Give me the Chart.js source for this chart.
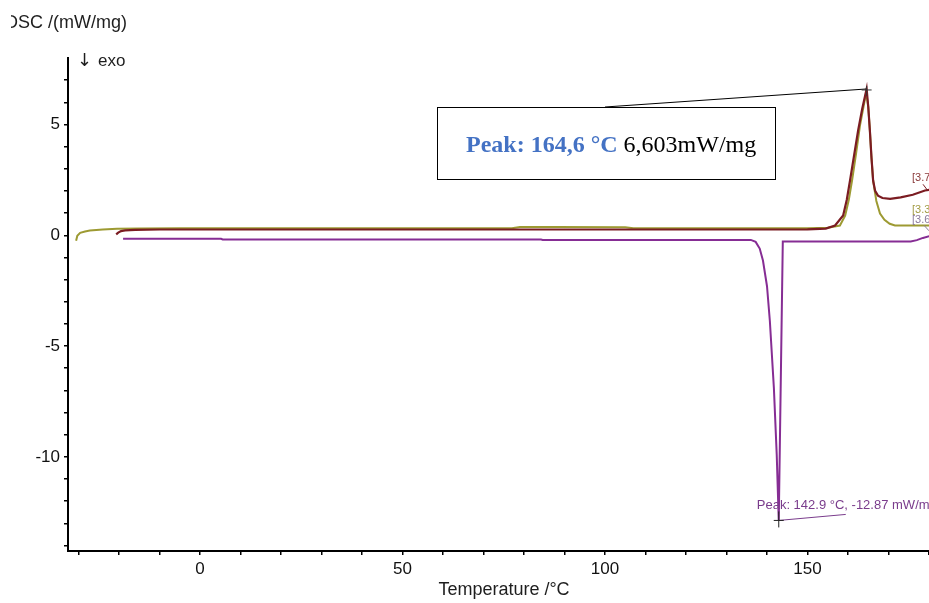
<!DOCTYPE html>
<html lang="en">
<head>
    <meta charset="UTF-8">
    <title>DSC - Heat Flow</title>
    <script src="https://cdn.jsdelivr.net/npm/chart.js"></script>
    <style>
        body {
            margin: 0;
            padding: 0;
            background-color: #ffffff;
        }

        #dscChart {
            display: block;
        }
    </style>
</head>
<body>

    <canvas id="dscChart" width="929" height="603"></canvas>

    <script>
        // Run 3.3 (olive) - temperature in °C, heat flow in mW/mg
        var run33Temp = [-30.6, -30.3, -29.6, -28.4, -27.2, -24, -20.5, -15, -5, 40, 77, 79, 88, 105, 107, 150, 155, 158.0, 159.3, 160.2, 161.0, 162.0, 163.0, 164.5, 165.0, 165.4, 165.8, 166.2, 167.0, 167.9, 169, 170.3, 171.6, 181];
        var run33Dsc = [-0.25, -0.02, 0.11, 0.17, 0.21, 0.26, 0.29, 0.31, 0.32, 0.32, 0.32, 0.37, 0.37, 0.36, 0.32, 0.32, 0.34, 0.44, 0.89, 1.6, 2.47, 3.7, 5.0, 6.45, 5.8, 4.73, 3.5, 2.47, 1.55, 0.98, 0.7, 0.52, 0.44, 0.44];

        // Run 3.7 (brown)
        var run37Temp = [-20.7, -20.2, -19.5, -18.5, -16, -10, 0, 60, 120, 150, 154.5, 156.8, 158.8, 159.7, 160.5, 161.5, 162.5, 163.5, 164.6, 165.0, 165.4, 165.8, 166.2, 166.7, 167.4, 168.5, 170.4, 173, 176, 179, 181];
        var run37Dsc = [0.04, 0.12, 0.19, 0.22, 0.24, 0.26, 0.26, 0.26, 0.26, 0.27, 0.3, 0.44, 0.89, 1.6, 2.47, 3.6, 4.73, 5.7, 6.603, 5.8, 4.73, 3.5, 2.47, 2.0, 1.79, 1.68, 1.64, 1.71, 1.83, 2.02, 2.08];

        // Run 3.6 (purple)
        var run36Temp = [-19.0, 5.2, 5.6, 84.2, 84.6, 136.0, 137.2, 138.2, 139.0, 140.0, 140.7, 141.7, 142.4, 142.9, 143.9, 175.5, 177, 178.5, 181];
        var run36Dsc = [-0.16, -0.16, -0.19, -0.19, -0.21, -0.21, -0.3, -0.6, -1.14, -2.3, -3.86, -6.9, -9.9, -12.87, -0.28, -0.28, -0.22, -0.12, 0.0];

        // evaluated peaks
        var meltPeakTemp = 164.6;
        var meltPeakDsc = 6.603;
        var crystPeakTemp = 142.9;
        var crystPeakDsc = -12.87;

        // axis ticks (minor marks) and the ones that get a label
        var tempTicks = [-30, -20, -10, 0, 10, 20, 30, 40, 50, 60, 70, 80, 90, 100, 110, 120, 130, 140, 150, 160, 170, 180];
        var tempLabels = [0, 50, 100, 150];
        var dscTicks = [-14, -13, -12, -11, -10, -9, -8, -7, -6, -5, -4, -3, -2, -1, 0, 1, 2, 3, 4, 5, 6, 7];
        var dscLabels = [-10, -5, 0, 5];

        var sansFont = '"Liberation Sans", Arial, sans-serif';
        var serifFont = '"Liberation Serif", "Times New Roman", serif';

        function toPoints(temps, values) {
            return temps.map(function (t, i) { return { x: t, y: values[i] }; });
        }

        function commaNum(v, digits) {
            return v.toFixed(digits).replace('.', ',');
        }

        // titles, peak evaluations and run tags
        var overlayPlugin = {
            id: 'dscOverlay',
            afterDraw: function (chart) {
                var ctx = chart.ctx;
                var xs = chart.scales.x;
                var ys = chart.scales.y;

                ctx.save();
                ctx.textBaseline = 'middle';

                // y unit at top left (its first letter is cut by the page edge)
                ctx.fillStyle = '#1e1e1e';
                ctx.font = '18px ' + sansFont;
                ctx.textAlign = 'left';
                ctx.fillText('DSC /(mW/mg)', 5, 23);
                ctx.fillStyle = '#ffffff';
                ctx.fillRect(0, 0, 11, 40);

                ctx.fillStyle = '#1e1e1e';
                ctx.font = '18px "DejaVu Sans", sans-serif';
                ctx.fillText('\u2193', 77, 61);
                ctx.font = '17px ' + sansFont;
                ctx.fillText('exo', 98, 61);

                ctx.font = '18px ' + sansFont;
                ctx.textAlign = 'center';
                ctx.fillText('Temperature /\u00B0C', 504, 590);

                // melting peak call-out
                var px = xs.getPixelForValue(meltPeakTemp);
                var py = ys.getPixelForValue(meltPeakDsc);
                ctx.strokeStyle = '#000000';
                ctx.lineWidth = 1;
                ctx.beginPath();
                ctx.moveTo(605, 107);
                ctx.lineTo(px, py);
                ctx.stroke();

                ctx.fillStyle = '#ffffff';
                ctx.fillRect(437, 107, 339, 73);
                ctx.strokeRect(437.5, 107.5, 338, 72);

                ctx.textAlign = 'left';
                ctx.textBaseline = 'alphabetic';
                var bold = 'Peak: ' + commaNum(meltPeakTemp, 1) + ' \u00B0C ';
                ctx.font = 'bold 24px ' + serifFont;
                ctx.fillStyle = '#4472c4';
                ctx.fillText(bold, 466, 152);
                var w = ctx.measureText(bold).width;
                ctx.font = '24px ' + serifFont;
                ctx.fillStyle = '#000000';
                ctx.fillText(commaNum(meltPeakDsc, 3) + 'mW/mg', 466 + w, 152);

                // peak mark on the melting curve
                ctx.strokeStyle = '#333333';
                ctx.beginPath();
                ctx.moveTo(px - 5, py + 1);
                ctx.lineTo(px + 5, py + 1);
                ctx.moveTo(px, py - 3);
                ctx.lineTo(px, py + 7);
                ctx.stroke();

                // crystallisation peak evaluation
                var cx = xs.getPixelForValue(crystPeakTemp);
                var cy = ys.getPixelForValue(crystPeakDsc);
                ctx.strokeStyle = '#7a3c8c';
                ctx.beginPath();
                ctx.moveTo(cx, cy);
                ctx.lineTo(cx + 67, cy - 6);
                ctx.stroke();
                ctx.strokeStyle = '#222222';
                ctx.beginPath();
                ctx.moveTo(cx - 5, cy);
                ctx.lineTo(cx + 5, cy);
                ctx.moveTo(cx, cy - 9);
                ctx.lineTo(cx, cy + 7);
                ctx.stroke();

                ctx.font = '13px ' + sansFont;
                ctx.fillStyle = '#7a3c8c';
                ctx.textBaseline = 'middle';
                ctx.fillText('Peak: ' + crystPeakTemp.toFixed(1) + ' \u00B0C, ' + crystPeakDsc.toFixed(2) + ' mW/mg', cx - 22, cy - 15);

                // run tags at the right edge
                var tagX = xs.right - 17;
                ctx.font = '11px ' + sansFont;
                ctx.fillStyle = '#8a3a3a';
                ctx.fillText('[3.7]', tagX, ys.getPixelForValue(2.6));
                ctx.fillStyle = '#a39c45';
                ctx.fillText('[3.3]', tagX, ys.getPixelForValue(1.15));
                ctx.fillStyle = '#8c7a9c';
                ctx.fillText('[3.6]', tagX, ys.getPixelForValue(0.7));

                ctx.lineWidth = 1;
                ctx.strokeStyle = '#7b1c22';
                ctx.beginPath();
                ctx.moveTo(tagX + 11, ys.getPixelForValue(2.3));
                ctx.lineTo(tagX + 16, ys.getPixelForValue(2.0));
                ctx.stroke();
                ctx.strokeStyle = '#8c7a9c';
                ctx.beginPath();
                ctx.moveTo(tagX + 12, ys.getPixelForValue(0.45));
                ctx.lineTo(tagX + 17, ys.getPixelForValue(0.2));
                ctx.stroke();

                ctx.restore();
            }
        };

        var ctx = document.getElementById('dscChart').getContext('2d');

        var dscChart = new Chart(ctx, {
            type: 'line',
            data: {
                datasets: [{
                    label: '3.7',
                    data: toPoints(run37Temp, run37Dsc),
                    borderColor: '#7b1c22',
                    borderWidth: 2.2,
                    order: 1
                }, {
                    label: '3.6',
                    data: toPoints(run36Temp, run36Dsc),
                    borderColor: '#862d94',
                    borderWidth: 2,
                    order: 2
                }, {
                    label: '3.3',
                    data: toPoints(run33Temp, run33Dsc),
                    borderColor: '#9d9a32',
                    borderWidth: 2,
                    order: 3
                }]
            },
            options: {
                responsive: false,
                animation: false,
                devicePixelRatio: 1,
                layout: {
                    padding: { top: 58, left: 0, right: 0, bottom: 0 }
                },
                elements: {
                    point: { radius: 0 },
                    line: { tension: 0, fill: false }
                },
                plugins: {
                    legend: { display: false },
                    tooltip: { enabled: false }
                },
                scales: {
                    x: {
                        type: 'linear',
                        min: -32.6,
                        max: 180,
                        border: { color: '#000000', width: 2 },
                        grid: { drawOnChartArea: false, tickLength: 4, color: '#000000', lineWidth: 1.5 },
                        ticks: {
                            autoSkip: false,
                            maxRotation: 0,
                            padding: 4,
                            color: '#111111',
                            font: { family: sansFont, size: 17 },
                            callback: function (v) { return tempLabels.indexOf(v) >= 0 ? String(v) : ''; }
                        },
                        afterBuildTicks: function (scale) {
                            scale.ticks = tempTicks.map(function (v) { return { value: v }; });
                        },
                        afterFit: function (scale) {
                            scale.height = 52;
                            scale.paddingLeft = 0;
                            scale.paddingRight = 0;
                        }
                    },
                    y: {
                        type: 'linear',
                        min: -14.25,
                        max: 8,
                        border: { color: '#000000', width: 2 },
                        grid: { drawOnChartArea: false, tickLength: 4, color: '#000000', lineWidth: 1.5 },
                        ticks: {
                            autoSkip: false,
                            padding: 4,
                            color: '#111111',
                            font: { family: sansFont, size: 17 },
                            callback: function (v) { return dscLabels.indexOf(v) >= 0 ? String(v) : ''; }
                        },
                        afterBuildTicks: function (scale) {
                            scale.ticks = dscTicks.map(function (v) { return { value: v }; });
                        },
                        afterFit: function (scale) {
                            scale.width = 68;
                            scale.paddingTop = 0;
                            scale.paddingBottom = 0;
                        }
                    }
                }
            },
            plugins: [overlayPlugin]
        });
    </script>
</body>
</html>
